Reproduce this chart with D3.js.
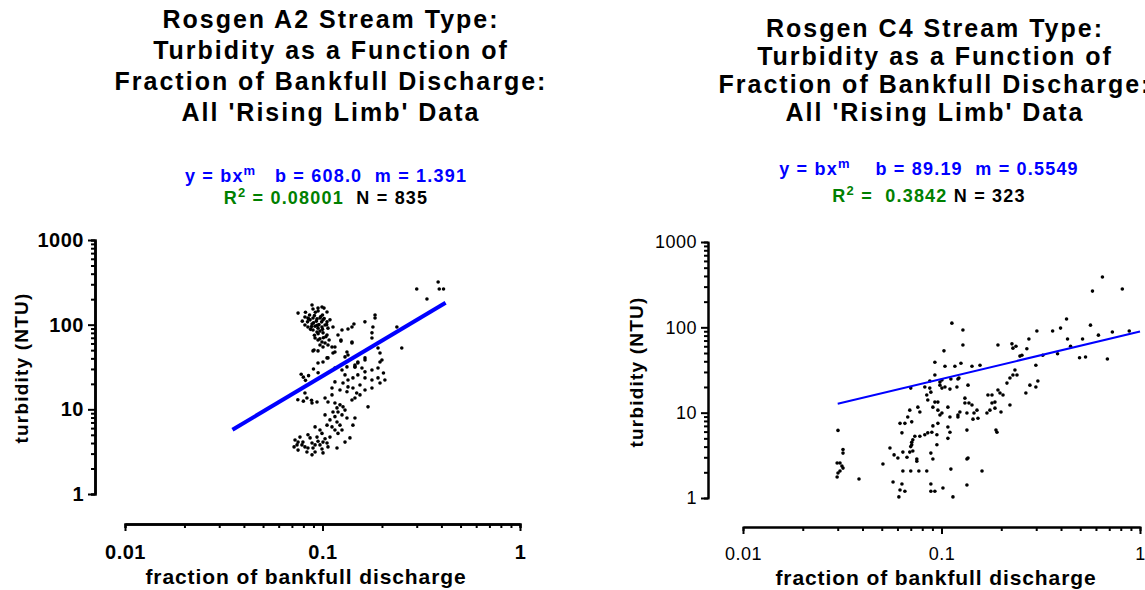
<!DOCTYPE html>
<html>
<head>
<meta charset="utf-8">
<script src="https://cdn.jsdelivr.net/npm/d3@7"></script>
<style>
  body { margin: 0; background: #fff; }
  svg { font-family: "Liberation Sans", Arial, sans-serif; }
</style>
</head>
<body>
<svg width="1145" height="590"></svg>
<script>
// ---- data ----
var titleA = ["Rosgen A2 Stream Type:", "Turbidity as a Function of", "Fraction of Bankfull Discharge:", "All 'Rising Limb' Data"];
var titleC = ["Rosgen C4 Stream Type:", "Turbidity as a Function of", "Fraction of Bankfull Discharge:", "All 'Rising Limb' Data"];

var fitA = { b: "608.0", m: "1.391", r2: "0.08001", n: 835, xmin: 0.035, xmax: 0.42 };
var fitC = { b: "89.19", m: "0.5549", r2: "0.3842", n: 323, xmin: 0.03, xmax: 1.0 };

var xTicks = [0.01, 0.1, 1];
var yTicks = [1, 10, 100, 1000];
var xLabel = "fraction of bankfull discharge";
var yLabel = "turbidity (NTU)";

// A2 rising limb points [fraction, NTU]
var pointsA = [
  // upper cluster
  [0.0885,171],[0.0895,153],[0.0949,157],[0.0994,162],[0.1018,157],[0.1054,141],
  [0.0815,123],[0.0844,120],[0.0865,114],[0.0895,120],[0.0938,117],[0.0971,120],
  [0.1006,114],[0.1054,108],[0.1091,114],[0.0815,99],[0.0844,94],[0.0885,102],
  [0.0917,96],[0.0949,91],[0.0994,94],[0.103,99],[0.1066,91],[0.113,94],
  [0.0895,86.5],[0.0938,82],[0.0971,84],[0.1006,80],[0.1054,75.5],[0.0917,69.7],
  [0.0949,66],[0.0994,62.5],[0.103,60.8],[0.1066,57.5],[0.1117,54.5],[0.0971,57.5],
  [0.1006,54.5],[0.1156,54.5],[0.0895,49],[0.09,105],[0.093,110],[0.096,100],
  [0.098,125],[0.086,130],[0.092,140],[0.1,130],[0.084,108],[0.088,95],
  [0.095,78],[0.1,88],[0.104,72],[0.097,68],[0.091,75],[0.108,66],
  [0.102,118],[0.079,110],[0.082,140],[0.095,145],[0.105,100],[0.0752,137],
  [0.087,88],[0.091,128],[0.099,108],[0.085,117],[0.094,98],[0.101,70],
  // scattered upper right
  [0.385,319],[0.30,264],[0.39,264],[0.41,264],[0.338,201],[0.252,53],[0.238,94],
  [0.1845,130],[0.1845,120],[0.18,94],[0.178,80],[0.178,69.7],[0.164,108],
  [0.1443,102],[0.141,94],[0.1346,89],[0.1255,86.5],[0.1198,75.5],[0.124,64],
  [0.141,60.8],[0.191,53],[0.1955,46.3],[0.2,38.3],[0.1641,40.5],[0.151,36.3],
  [0.146,31.7],[0.133,47.6],[0.13,41.6],[0.0949,35.3],[0.1006,36.3],[0.1054,40.5],
  [0.1156,47.6],[0.113,46.3],[0.0906,50.3],[0.0949,49],[0.1066,40.5],[0.146,33.4],
  [0.1641,38.3],[0.151,35.3],[0.1955,36.3],[0.1346,43.9],[0.141,62.5],[0.124,66],
  // middle cluster
  [0.1156,30.8],[0.1255,29.2],[0.133,31.7],[0.146,31.7],[0.1584,30.8],[0.1641,27.7],
  [0.178,29.2],[0.191,30.8],[0.2035,26.9],[0.207,22.2],[0.191,23.5],[0.178,22.2],
  [0.1641,23.5],[0.151,25.5],[0.1426,23.5],[0.1346,22.2],[0.13,25.5],[0.127,20.5],
  [0.1346,18.4],[0.1426,17.9],[0.1548,19.4],[0.1641,16.9],[0.178,17.9],[0.1955,20.5],
  [0.1156,21.1],[0.1117,17.9],[0.149,15.6],[0.1226,16.9],[0.133,16.1],
  [0.078,26],[0.08,24],[0.085,25],[0.075,13],[0.08,12.5],[0.088,12.8],
  [0.095,27],[0.09,30],[0.082,22],
  [0.0815,15.6],[0.0834,13.6],[0.0885,11.9],[0.0938,12.2],[0.103,13.6],[0.1066,12.2],
  [0.1117,14.8],[0.141,12.9],[0.146,13.6],[0.1548,14.8],[0.170,10.7],
  // lower diagonal cluster
  [0.1156,11.9],[0.1226,11.3],[0.127,10.7],[0.1184,10.4],[0.113,9.3],[0.1198,9.3],
  [0.13,9.8],[0.1255,8.6],[0.1156,8.2],[0.1091,7.5],[0.1184,7.1],[0.1226,6.5],
  [0.1117,6.2],[0.1054,6.5],[0.1156,5.7],[0.1255,5.7],[0.1198,5.2],[0.103,8.6],
  [0.133,7.9],[0.146,7.9],[0.1426,6.5],[0.1377,4.6],[0.13,4.1],[0.0917,6.2],
  [0.0971,5.7],
  // bottom cluster
  [0.0726,4.35],[0.0743,3.8],[0.0752,3.3],[0.0769,4.7],[0.0796,4.1],[0.0815,3.6],
  [0.0834,3.14],[0.0865,4.6],[0.0885,4.0],[0.0895,3.5],[0.0917,3.14],[0.0938,4.7],
  [0.0949,4.2],[0.0971,3.8],[0.0994,3.4],[0.1006,3.06],[0.103,4.5],[0.1054,4.0],
  [0.1066,3.6],[0.1091,4.7],[0.0885,2.9],[0.0752,4.1],[0.0787,3.8],[0.0844,5.0],
  [0.0994,5.2],[0.1184,3.5],[0.0718,3.6],[0.0917,3.8],[0.0844,3.5],[0.1006,4.1]
];

// C4 rising limb points [fraction, NTU]
var pointsC = [
  [0.0301,6.2],[0.0319,3.7],[0.0319,3.36],[0.0298,2.57],[0.0308,2.57],[0.0315,2.37],
  [0.0319,2.24],[0.0308,2.07],[0.0301,1.96],[0.0298,1.76],[0.0384,1.67],[0.0507,2.5],
  [0.055,3.85],[0.0577,3.2],[0.0603,2.94],[0.057,1.54],[0.0632,1.46],[0.0618,1.24],
  [0.061,1.03],[0.0654,1.2],[0.0639,2.07],[0.07,2.07],[0.0769,2.07],[0.0843,2.07],
  [0.0751,2.7],[0.0884,3.36],[0.0905,2.86],[0.0884,1.46],[0.0884,1.2],[0.0926,1.2],
  [0.1017,1.31],[0.1142,1.03],[0.1115,2.18],[0.1343,2.86],[0.1343,1.42],[0.16,2.07],
  [0.1343,6.25],[0.1881,6.25],[0.1903,5.9],[0.0639,3.45],[0.0708,4.5],[0.07,4.0],
  [0.0717,3.55],[0.0853,14.1],[0.0926,13.3],[0.0959,13.3],[0.0905,11.6],[0.0959,10.7],
  [0.1005,9.9],[0.1077,11.6],[0.1103,8.9],[0.1077,6.8],[0.1103,5.9],[0.1077,5.0],
  [0.0982,9.4],[0.0959,7.5],[0.0905,7.0],[0.0948,5.5],[0.076,11.6],[0.0778,10.2],
  [0.0692,10.7],[0.0676,8.9],[0.0708,7.8],[0.0654,7.5],[0.0632,5.8],[0.0618,7.5],
  [0.0734,5.3],[0.0778,5.3],[0.0824,5.5],[0.0853,5.8],[0.0894,5.9],[0.0717,4.8],
  [0.0708,4.2],[0.0692,3.45],[0.067,3.0],[0.0948,4.2],[0.136,2.94],[0.0751,2.86],
  [0.07,19.4],[0.0926,39],[0.1029,53],[0.1128,112],[0.1282,93],[0.1282,62],
  [0.1424,35],[0.1563,36],[0.1253,38],[0.1168,35],[0.1041,35],[0.0926,27.6],
  [0.0873,23.5],[0.0824,20],[0.0884,17.4],[0.0843,16.1],[0.0873,19.4],[0.0982,22.9],
  [0.1005,19.4],[0.1115,24.8],[0.121,24.8],[0.1196,20],[0.136,21],[0.1224,25.5],
  [0.1103,18.9],[0.1005,24.1],[0.0982,21],[0.1041,20],[0.1312,14.8],[0.1312,13],
  [0.1375,13],[0.1424,12.3],[0.1343,9.9],[0.121,9.4],[0.121,8.9],[0.1238,10.2],
  [0.1527,8.6],[0.1441,8.4],[0.1458,9.9],[0.1509,10.7],[0.1925,18.4],[0.1971,17],
  [0.2041,16.1],[0.1796,16.1],[0.1714,16.1],[0.1859,13.3],[0.1796,13],[0.1859,11.3],
  [0.1754,10.7],[0.1694,9.9],[0.1994,10.2],[0.2212,12.3],[0.1925,62],[0.2344,31.6],
  [0.24,27.6],[0.229,27.6],[0.2137,22.2],[0.2212,25.5],[0.2264,64],[0.229,57],
  [0.2372,60],[0.2542,47],[0.2484,46],[0.2756,73],[0.2692,56],[0.3237,47],
  [0.2988,36],[0.3058,23.5],[0.2988,20],[0.2788,21],[0.2661,17],[0.3023,90.5],
  [0.363,90.5],[0.3979,98],[0.4265,125],[0.4315,73],[0.4469,60],[0.5136,73],
  [0.563,106],[0.5762,266],[0.6467,389],[0.8145,281],[0.6174,81],[0.685,42.5],
  [0.7256,88],[0.8829,90.5],[0.496,44],[0.5316,45],[0.3843,49]
];

// ---- layout ----
var svg = d3.select("svg");
var blue = "#0000ff", green = "#008000";

var panels = [
  { title: titleA, fit: fitA, pts: pointsA, bold: true,
    x0: 125, x1: 520, yTop: 240, yBot: 494, yAxisX: 95, xAxisY: 524,
    titleX: 331, titleY: 28, titleStep: 31, eqX: 326, eqY: 182, eqY2: 204,
    eqGap: "\u00a0\u00a0\u00a0", lineW: 4, axisW: 2.5, tickFont: 20,
    xLabX: 306, xLabY: 584, yLabX: 28, yLabY: 368 },
  { title: titleC, fit: fitC, pts: pointsC, bold: false,
    x0: 743, x1: 1140, yTop: 242, yBot: 498, yAxisX: 708, xAxisY: 527,
    titleX: 935, titleY: 37, titleStep: 28, eqX: 929, eqY: 175, eqY2: 202,
    eqGap: "\u00a0\u00a0\u00a0\u00a0", lineW: 2, axisW: 2, tickFont: 18,
    xLabX: 936, xLabY: 585, yLabX: 643, yLabY: 372 }
];

function minorTicks(lo, hi) {
  var t = [];
  for (var d = lo; d < hi; d *= 10)
    for (var k = 2; k <= 9; k++) t.push(d * k);
  return t;
}

panels.forEach(function(p) {
  var g = svg.append("g");

  var x = d3.scaleLog().domain([0.01, 1]).range([p.x0, p.x1]);
  var y = d3.scaleLog().domain([1, 1000]).range([p.yBot, p.yTop]);

  // title
  g.append("text")
    .attr("text-anchor", "middle")
    .attr("font-size", 25).attr("font-weight", "bold")
    .attr("letter-spacing", 2)
    .selectAll("tspan").data(p.title).enter().append("tspan")
    .attr("x", p.titleX)
    .attr("y", (d, i) => p.titleY + i * p.titleStep)
    .text(d => d);

  // equation lines
  var eq = g.append("text")
    .attr("x", p.eqX).attr("y", p.eqY)
    .attr("text-anchor", "middle")
    .attr("font-size", 18).attr("font-weight", "bold")
    .attr("letter-spacing", 1.2)
    .attr("fill", blue);
  eq.append("tspan").text("y = bx");
  eq.append("tspan").attr("dy", -7).attr("font-size", 13).text("m");
  eq.append("tspan").attr("dy", 7)
    .text(p.eqGap + "b = " + p.fit.b + "\u00a0\u00a0m = " + p.fit.m);

  var eq2 = g.append("text")
    .attr("x", p.eqX).attr("y", p.eqY2)
    .attr("text-anchor", "middle")
    .attr("font-size", 18).attr("font-weight", "bold")
    .attr("letter-spacing", 1.2);
  eq2.append("tspan").attr("fill", green).text("R");
  eq2.append("tspan").attr("fill", green).attr("dy", -7).attr("font-size", 13).text("2");
  eq2.append("tspan").attr("fill", green).attr("dy", 7)
    .text(" = " + (p.bold ? "" : "\u00a0") + p.fit.r2 + (p.bold ? "\u00a0" : ""));
  eq2.append("tspan").attr("fill", "#000").text(" N = " + p.fit.n);

  // axes
  var xAxis = g.append("g").attr("transform", "translate(0," + p.xAxisY + ")");
  xAxis.append("g")
    .call(d3.axisBottom(x).tickValues(minorTicks(0.01, 1)).tickSize(4).tickFormat(""));
  xAxis.append("g")
    .call(d3.axisBottom(x).tickValues(xTicks).tickSize(7).tickSizeOuter(0)
      .tickFormat(d => String(d)));

  var yAxis = g.append("g").attr("transform", "translate(" + p.yAxisX + ",0)");
  yAxis.append("g")
    .call(d3.axisLeft(y).tickValues(minorTicks(1, 1000)).tickSize(4).tickFormat(""));
  yAxis.append("g")
    .call(d3.axisLeft(y).tickValues(yTicks).tickSize(7).tickSizeOuter(0)
      .tickFormat(d => String(d)));

  [xAxis, yAxis].forEach(function(a) {
    a.selectAll("path").attr("stroke", "#000").attr("stroke-width", p.axisW);
    a.selectAll("line").attr("stroke", "#000").attr("stroke-width", 2);
    a.selectAll("text")
      .attr("font-family", "Liberation Sans, Arial, sans-serif")
      .attr("font-size", p.tickFont)
      .attr("font-weight", p.bold ? "bold" : "normal")
      .attr("letter-spacing", 0.5)
      .attr("fill", "#000");
  });
  xAxis.selectAll("text").attr("dy", "1.25em");
  yAxis.selectAll("text").attr("dx", "-0.05em");

  // axis titles
  g.append("text")
    .attr("x", p.xLabX).attr("y", p.xLabY)
    .attr("text-anchor", "middle")
    .attr("font-size", 21).attr("font-weight", "bold")
    .attr("letter-spacing", 0.9)
    .text(xLabel);
  g.append("text")
    .attr("transform", "translate(" + p.yLabX + "," + p.yLabY + ") rotate(-90)")
    .attr("text-anchor", "middle")
    .attr("font-size", 19).attr("font-weight", "bold")
    .attr("letter-spacing", 1.2)
    .text(yLabel);

  // points
  g.append("g").selectAll("circle")
    .data(p.pts).enter().append("circle")
    .attr("cx", d => x(d[0]))
    .attr("cy", d => y(d[1]))
    .attr("r", 1.8)
    .attr("fill", "#000");

  // fitted power curve y = b x^m
  var b = +p.fit.b, m = +p.fit.m;
  var line = d3.line()
    .x(d => x(d))
    .y(d => y(b * Math.pow(d, m)));
  g.append("path")
    .datum([p.fit.xmin, p.fit.xmax])
    .attr("d", line)
    .attr("fill", "none")
    .attr("stroke", blue)
    .attr("stroke-width", p.lineW);
});
</script>
</body>
</html>
